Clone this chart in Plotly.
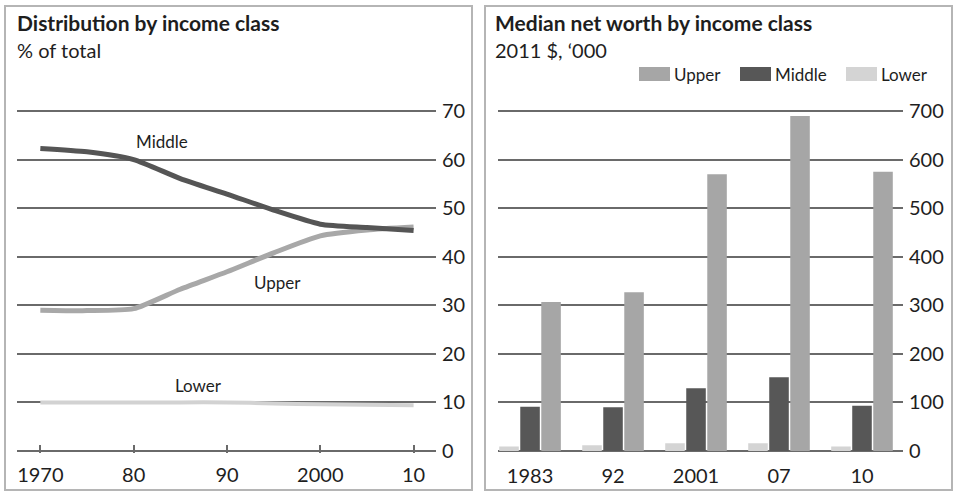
import plotly.graph_objects as go

# ---------------- data ----------------
years = [1970, 1975, 1980, 1985, 1990, 1995, 2000, 2005, 2010]
middle_share = [62.3, 61.6, 60.0, 56.1, 52.9, 49.6, 46.7, 46.0, 45.4]
upper_share = [29.0, 28.9, 29.3, 33.3, 36.9, 40.8, 44.3, 45.5, 46.1]
lower_share = [10.0, 10.0, 10.0, 10.0, 10.0, 9.8, 9.6, 9.5, 9.4]
year_ticks = [1970, 1980, 1990, 2000, 2010]
year_tick_labels = ["1970", "80", "90", "2000", "10"]
share_ticks = [0, 10, 20, 30, 40, 50, 60, 70]

bar_categories = ["1983", "92", "2001", "07", "10"]
worth_lower = [9, 12, 16, 16, 9]
worth_middle = [91, 90, 129, 152, 93]
worth_upper = [307, 327, 570, 690, 575]
worth_ticks = [0, 100, 200, 300, 400, 500, 600, 700]

legend_names = ["Upper", "Middle", "Lower"]

# ---------------- styles ----------------
W, H = 957, 493
FONT = "Lato"
C_UP_LINE, C_MID_LINE, C_LOW_LINE = "#a8a8a8", "#555555", "#d2d2d2"
C_UP_BAR, C_MID_BAR, C_LOW_BAR = "#a6a6a6", "#575757", "#d4d4d4"
GRID = "#6a6a6a"
TXT = "#1e1e1e"

def px(x):
    return x / W

def py(y):
    return 1 - y / H

fig = go.Figure()

# left panel lines
for vals, col, wid in [(lower_share, C_LOW_LINE, 4), (upper_share, C_UP_LINE, 5), (middle_share, C_MID_LINE, 5)]:
    fig.add_trace(go.Scatter(x=years, y=vals, mode="lines", line=dict(color=col, width=wid, shape="spline", smoothing=0.6),
                             xaxis="x", yaxis="y", showlegend=False, hoverinfo="skip"))

# right panel bars (lower, middle, upper order within group)
xpos = list(range(len(bar_categories)))
for name, vals, col in [("Lower", worth_lower, C_LOW_BAR), ("Middle", worth_middle, C_MID_BAR), ("Upper", worth_upper, C_UP_BAR)]:
    fig.add_trace(go.Bar(x=xpos, y=vals, name=name, marker=dict(color=col, line=dict(width=0)),
                         xaxis="x2", yaxis="y2", showlegend=False))

ydom = [py(453.4), py(108.6)]

fig.update_layout(
    width=W, height=H,
    margin=dict(l=0, r=0, t=0, b=0, pad=0, autoexpand=False),
    showlegend=False,
    paper_bgcolor="white", plot_bgcolor="white",
    font=dict(family=FONT, color=TXT, size=20),
    barmode="group", bargap=0.24, bargroupgap=0.07,
    xaxis=dict(domain=[px(17), px(436)], range=[1967.5, 2012.4], tickvals=year_ticks, ticktext=year_tick_labels,
               showgrid=False, zeroline=False, showline=False, ticks="inside", ticklen=8, tickwidth=1.5,
               tickcolor=GRID, ticklabelstandoff=8, anchor="y", tickfont=dict(size=20), automargin=False),
    yaxis=dict(domain=ydom, range=[-0.5, 70.5], tickvals=share_ticks, side="right", showgrid=True,
               gridcolor=GRID, gridwidth=2, zeroline=False, showline=False, ticks="", anchor="x",
               ticklabelstandoff=5, tickfont=dict(size=20), automargin=False),
    xaxis2=dict(domain=[px(498), px(903)], range=[-0.386, 4.494], tickvals=xpos, ticktext=bar_categories,
                showgrid=False, zeroline=False, showline=False, ticks="", anchor="y2",
                ticklabelstandoff=9, tickfont=dict(size=20), automargin=False),
    yaxis2=dict(domain=ydom, range=[-5, 705], tickvals=worth_ticks, side="right", showgrid=True,
                gridcolor=GRID, gridwidth=2, zeroline=False, showline=False, ticks="", anchor="x2",
                ticklabelstandoff=5, tickfont=dict(size=20), automargin=False),
)

shapes = [
    dict(type="rect", xref="paper", yref="paper", x0=px(5), x1=px(472), y0=py(490), y1=py(6),
         line=dict(color="#b5b5b5", width=2), fillcolor="rgba(0,0,0,0)", layer="below"),
    dict(type="rect", xref="paper", yref="paper", x0=px(485), x1=px(952), y0=py(490), y1=py(6),
         line=dict(color="#b5b5b5", width=2), fillcolor="rgba(0,0,0,0)", layer="below"),
]

annotations = [
    dict(text="<b>Distribution by income class</b>", x=px(15), y=py(8), xref="paper", yref="paper",
         xanchor="left", yanchor="top", showarrow=False, font=dict(size=21, color=TXT)),
    dict(text="% of total", x=px(15), y=py(36), xref="paper", yref="paper",
         xanchor="left", yanchor="top", showarrow=False, font=dict(size=20, color=TXT)),
    dict(text="<b>Median net worth by income class</b>", x=px(493), y=py(8), xref="paper", yref="paper",
         xanchor="left", yanchor="top", showarrow=False, font=dict(size=21, color=TXT)),
    dict(text="2011 $, \u2018000", x=px(493), y=py(36), xref="paper", yref="paper",
         xanchor="left", yanchor="top", showarrow=False, font=dict(size=20, color=TXT)),
    dict(text="Middle", x=1983.0, y=63.8, xref="x", yref="y", showarrow=False, font=dict(size=17, color=TXT)),
    dict(text="Upper", x=1995.4, y=34.6, xref="x", yref="y", showarrow=False, font=dict(size=17, color=TXT)),
    dict(text="Lower", x=1986.9, y=13.4, xref="x", yref="y", showarrow=False, font=dict(size=17, color=TXT)),
]

# custom legend (wide swatches)
legend_cols = {"Upper": C_UP_BAR, "Middle": C_MID_BAR, "Lower": C_LOW_BAR}
legend_x = [639, 740, 846]
for name, lx in zip(legend_names, legend_x):
    shapes.append(dict(type="rect", xref="paper", yref="paper", x0=px(lx), x1=px(lx + 31), y0=py(81), y1=py(67),
                       line=dict(width=0), fillcolor=legend_cols[name]))
    annotations.append(dict(text=name, x=px(lx + 33), y=py(74), xref="paper", yref="paper", xanchor="left",
                            yanchor="middle", showarrow=False, font=dict(size=17, color=TXT)))

fig.update_layout(shapes=shapes, annotations=annotations)
fig.write_html("out.html", config={"displayModeBar": False},
               post_script="document.body.style.margin='0';document.body.style.overflow='hidden';")
